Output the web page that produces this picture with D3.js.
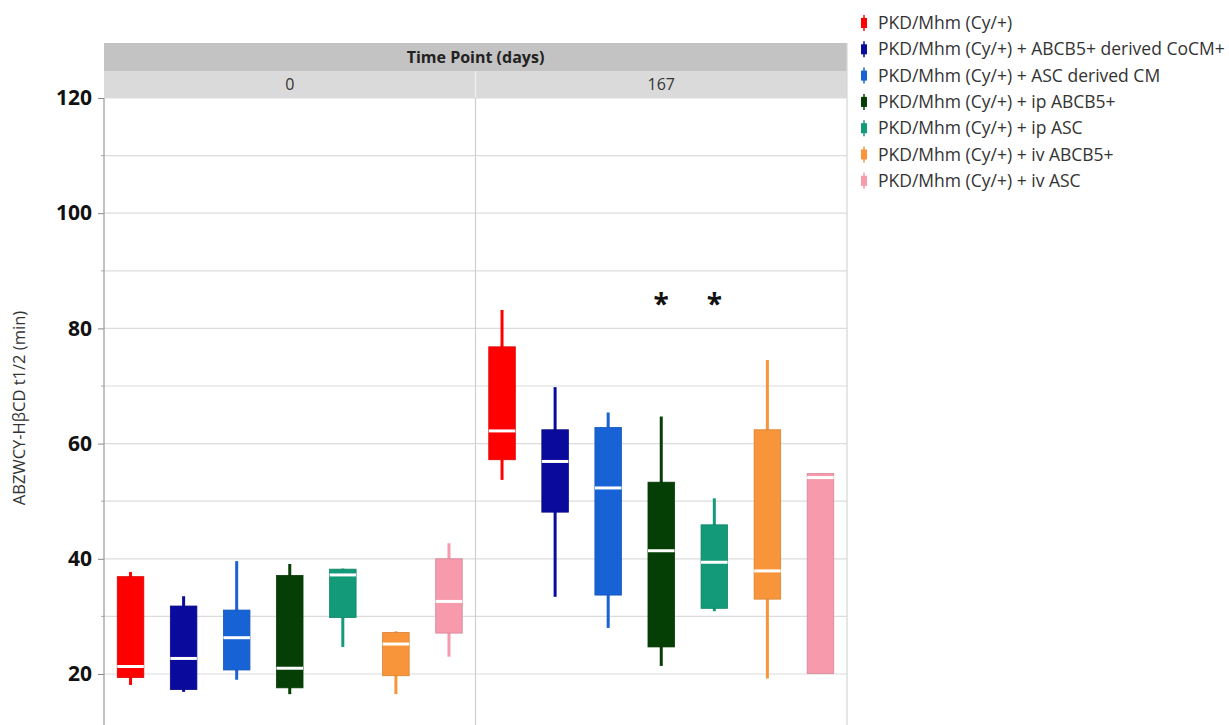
<!DOCTYPE html>
<html>
<head>
<meta charset="utf-8">
<script src="https://cdn.jsdelivr.net/npm/d3@7"></script>
<style>
  body { margin: 0; background: #fff; }
  svg { display: block; font-family: "Open Sans", sans-serif; }
</style>
</head>
<body>
<svg id="chart" width="1229" height="725"></svg>
<script>
const groups = [
  "PKD/Mhm (Cy/+)",
  "PKD/Mhm (Cy/+) + ABCB5+ derived CoCM+",
  "PKD/Mhm (Cy/+) + ASC derived CM",
  "PKD/Mhm (Cy/+) + ip ABCB5+",
  "PKD/Mhm (Cy/+) + ip ASC",
  "PKD/Mhm (Cy/+) + iv ABCB5+",
  "PKD/Mhm (Cy/+) + iv ASC"
];
const colors = ["#ff0000", "#0a0a9c", "#1763d6", "#053f05", "#139a78", "#f8953a", "#f79aab"];
const timePoints = ["0", "167"];

// day 0
const minDay0    = [18.1, 16.9, 19.0, 16.5, 24.7, 16.5, 23.0];
const q1Day0     = [19.4, 17.3, 20.7, 17.6, 29.8, 19.7, 27.1];
const medianDay0 = [21.3, 22.7, 26.3, 21.0, 37.2, 25.2, 32.6];
const q3Day0     = [36.9, 31.8, 31.1, 37.1, 38.2, 27.2, 40.0];
const maxDay0    = [37.7, 33.5, 39.6, 39.1, 38.3, 27.4, 42.7];
// day 167
const minDay167    = [53.7, 33.4, 28.0, 21.4, 30.9, 19.2, 20.1];
const q1Day167     = [57.2, 48.1, 33.7, 24.7, 31.4, 33.0, 20.1];
const medianDay167 = [62.2, 56.9, 52.3, 41.4, 39.4, 37.9, 54.1];
const q3Day167     = [76.8, 62.4, 62.8, 53.3, 45.9, 62.4, 54.8];
const maxDay167    = [83.2, 69.8, 65.4, 64.7, 50.5, 74.5, 54.8];

const sigGroups = [3, 4];   // significant at 167 days
const sigLevel = 85;
const yTicks = [20, 40, 60, 80, 100, 120];

const stats = [
  {min: minDay0, q1: q1Day0, med: medianDay0, q3: q3Day0, max: maxDay0},
  {min: minDay167, q1: q1Day167, med: medianDay167, q3: q3Day167, max: maxDay167}
];

const svg = d3.select("#chart");
const plotLeft = 104, plotRight = 847, plotTop = 98, plotBottom = 725;
const headTop = 43, headMid = 71;

const y = d3.scaleLinear().domain([20, 120]).range([674, 98]);
const xPanel = d3.scaleBand().domain(timePoints).range([plotLeft, plotRight]);
const xGroup = d3.scaleBand().domain(d3.range(groups.length)).range([0, xPanel.bandwidth()]).paddingInner(0.5).paddingOuter(0.25);

// header strips
svg.append("rect").attr("x", plotLeft).attr("y", headTop).attr("width", plotRight - plotLeft)
  .attr("height", headMid - headTop).attr("fill", "#c3c3c3");
svg.append("text").attr("x", (plotLeft + plotRight) / 2).attr("y", headMid - 8)
  .attr("text-anchor", "middle").attr("font-size", 16).attr("font-weight", "bold").attr("fill", "#222")
  .text("Time Point (days)");
svg.selectAll(".strip").data(timePoints).join("rect")
  .attr("x", d => xPanel(d)).attr("y", headMid).attr("width", xPanel.bandwidth())
  .attr("height", plotTop - headMid).attr("fill", "#dadada");
svg.selectAll(".stripLabel").data(timePoints).join("text")
  .attr("x", d => xPanel(d) + xPanel.bandwidth() / 2).attr("y", plotTop - 8)
  .attr("text-anchor", "middle").attr("font-size", 16).attr("fill", "#333").text(d => d);
svg.append("line").attr("x1", xPanel("167")).attr("x2", xPanel("167"))
  .attr("y1", headMid).attr("y2", plotTop).attr("stroke", "#eeeeee").attr("stroke-width", 1.5);

// grid
const gridTicks = d3.range(20, 121, 10);
svg.append("g").selectAll("line").data(gridTicks).join("line")
  .attr("x1", plotLeft).attr("x2", plotRight).attr("y1", d => y(d)).attr("y2", d => y(d))
  .attr("stroke", "#dcdcdc").attr("stroke-width", 1.2);

// panel borders
svg.append("line").attr("x1", xPanel("167")).attr("x2", xPanel("167"))
  .attr("y1", plotTop).attr("y2", plotBottom).attr("stroke", "#cfcfcf").attr("stroke-width", 1.2);
svg.append("line").attr("x1", plotRight).attr("x2", plotRight)
  .attr("y1", headTop).attr("y2", plotBottom).attr("stroke", "#d6d6d6").attr("stroke-width", 1.2);

// y axis
const yAxis = svg.append("g").attr("transform", `translate(${plotLeft},0)`)
  .call(d3.axisLeft(y).tickValues(yTicks).tickSize(6).tickPadding(6).tickFormat(d3.format("d")));
yAxis.select(".domain").remove();
yAxis.selectAll(".tick line").attr("stroke", "#888");
yAxis.selectAll(".tick text").attr("font-size", 21).attr("font-weight", "bold").attr("fill", "#111")
  .attr("font-family", "'Open Sans', sans-serif");
svg.append("g").selectAll("line").data(gridTicks.filter(d => d % 20 !== 0)).join("line")
  .attr("x1", plotLeft - 3).attr("x2", plotLeft).attr("y1", d => y(d)).attr("y2", d => y(d))
  .attr("stroke", "#aaa");
svg.append("line").attr("x1", plotLeft).attr("x2", plotLeft).attr("y1", plotTop).attr("y2", plotBottom)
  .attr("stroke", "#999").attr("stroke-width", 1.2);

svg.append("text").attr("transform", `translate(25,408) rotate(-90)`)
  .attr("text-anchor", "middle").attr("font-size", 16.5).attr("fill", "#333")
  .text("ABZWCY-HβCD  t1/2 (min)");

// boxes
timePoints.forEach((tp, p) => {
  const s = stats[p];
  const g = svg.append("g").attr("transform", `translate(${xPanel(tp)},0)`);
  const w = xGroup.bandwidth();
  groups.forEach((name, i) => {
    const cx = xGroup(i) + w / 2;
    const col = colors[i];
    g.append("line").attr("x1", cx).attr("x2", cx).attr("y1", y(s.max[i])).attr("y2", y(s.min[i]))
      .attr("stroke", col).attr("stroke-width", 3);
    g.append("rect").attr("x", xGroup(i)).attr("y", y(s.q3[i])).attr("width", w)
      .attr("height", y(s.q1[i]) - y(s.q3[i])).attr("fill", col)
      .attr("stroke", d3.color(col).darker(0.4)).attr("stroke-width", 0.8);
    g.append("line").attr("x1", xGroup(i)).attr("x2", xGroup(i) + w)
      .attr("y1", y(s.med[i])).attr("y2", y(s.med[i])).attr("stroke", "#fff").attr("stroke-width", 3);
  });
  if (p === 1) {
    g.selectAll(".sig").data(sigGroups).join("text")
      .attr("x", d => xGroup(d) + w / 2).attr("y", y(sigLevel) + 14)
      .attr("text-anchor", "middle").attr("font-size", 28).attr("font-weight", "bold").attr("fill", "#111")
      .text("*");
  }
});

// legend
const legend = svg.append("g").attr("transform", "translate(864,23)");
const rows = legend.selectAll("g").data(groups).join("g")
  .attr("transform", (d, i) => `translate(0,${i * 26.3})`);
rows.append("line").attr("x1", 0).attr("x2", 0).attr("y1", -8).attr("y2", 8)
  .attr("stroke", (d, i) => colors[i]).attr("stroke-width", 1.5);
rows.append("rect").attr("x", -3).attr("y", -5).attr("width", 6).attr("height", 10)
  .attr("fill", (d, i) => colors[i]);
rows.append("text").attr("x", 14).attr("y", 6).attr("font-size", 17.5).attr("fill", "#333")
  .text(d => d);
</script>
</body>
</html>
